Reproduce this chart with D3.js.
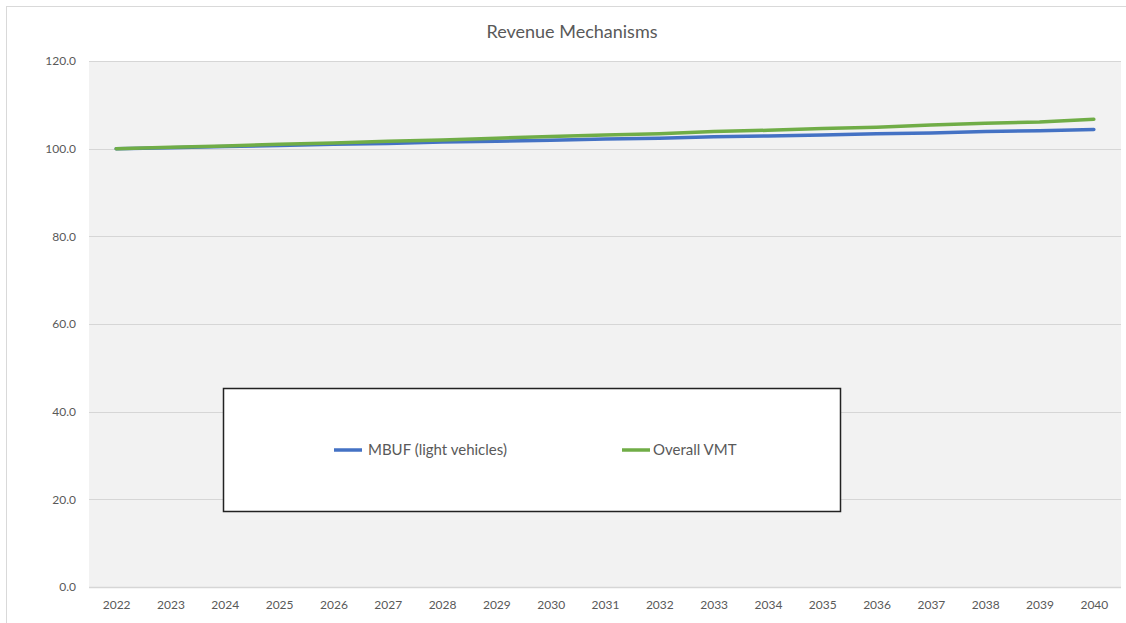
<!DOCTYPE html>
<html>
<head>
<meta charset="utf-8">
<script src="https://cdn.jsdelivr.net/npm/d3@7"></script>
<style>
  html, body { margin: 0; padding: 0; background: #fff; }
  svg { display: block; font-family: Lato, "Open Sans", sans-serif; }
</style>
</head>
<body>
<div id="chart"></div>
<script>
const years = ["2022","2023","2024","2025","2026","2027","2028","2029","2030","2031",
  "2032","2033","2034","2035","2036","2037","2038","2039","2040"]
const mbuf = [100.0, 100.2, 100.5, 100.7, 101.0, 101.2, 101.5, 101.7, 101.9, 102.2,
  102.4, 102.7, 102.9, 103.1, 103.4, 103.6, 103.9, 104.1, 104.4]
const vmt = [100.0, 100.3, 100.6, 101.0, 101.3, 101.7, 102.0, 102.4, 102.8, 103.1,
  103.4, 103.9, 104.2, 104.6, 104.9, 105.4, 105.8, 106.1, 106.7]
const yTicks = [0, 20, 40, 60, 80, 100, 120]
const seriesNames = ["MBUF (light vehicles)", "Overall VMT"]
const seriesColors = ["#4472C4", "#70AD47"]

const width = 1126, height = 623
const plot = { left: 89, right: 1121, top: 61, bottom: 587 }

const svg = d3.select("#chart").append("svg")
  .attr("width", width)
  .attr("height", height)

// chart border
svg.append("rect")
  .attr("x", 6.5).attr("y", 6.5)
  .attr("width", width + 10).attr("height", height + 10)
  .attr("fill", "#fff")
  .attr("stroke", "#d9d9d9")

// plot background
svg.append("rect")
  .attr("x", plot.left).attr("y", plot.top)
  .attr("width", plot.right - plot.left).attr("height", plot.bottom - plot.top)
  .attr("fill", "#f2f2f2")

const x = d3.scalePoint().domain(years).range([plot.left, plot.right]).padding(0.5)
const y = d3.scaleLinear().domain([0, 120]).range([plot.bottom, plot.top])

// gridlines
svg.append("g")
  .selectAll("line")
  .data(yTicks)
  .join("line")
  .attr("x1", plot.left).attr("x2", plot.right)
  .attr("y1", d => Math.round(y(d)) + 0.5).attr("y2", d => Math.round(y(d)) + 0.5)
  .attr("stroke", "#d6d6d6")
  .attr("stroke-width", d => d === 0 ? 1.5 : 1)

// y axis
const yAxis = svg.append("g")
  .attr("transform", `translate(${plot.left - 10},0)`)
  .call(d3.axisLeft(y).tickValues(yTicks).tickFormat(d3.format(".1f")).tickSize(0))
  .attr("font-family", null)
yAxis.select(".domain").remove()
yAxis.selectAll("text")
  .attr("fill", "#595959")
  .attr("font-size", 12)
  .attr("dx", 0)

// x axis
const xAxis = svg.append("g")
  .attr("transform", `translate(0,${plot.bottom + 10})`)
  .call(d3.axisBottom(x).tickSize(0))
  .attr("font-family", null)
xAxis.select(".domain").remove()
xAxis.selectAll("text")
  .attr("fill", "#595959")
  .attr("font-size", 12)

// lines
const line = d3.line()
  .x((d, i) => x(years[i]))
  .y(d => y(d))

;[mbuf, vmt].forEach((vals, i) => {
  svg.append("path")
    .datum(vals)
    .attr("fill", "none")
    .attr("stroke", seriesColors[i])
    .attr("stroke-width", 3.5)
    .attr("stroke-linecap", "round")
    .attr("stroke-linejoin", "round")
    .attr("d", line)
})

// title
svg.append("text")
  .attr("x", 572).attr("y", 38)
  .attr("text-anchor", "middle")
  .attr("font-size", 18)
  .attr("fill", "#595959")
  .text("Revenue Mechanisms")

// legend
const legend = svg.append("g")
legend.append("rect")
  .attr("x", 223.5).attr("y", 388.5)
  .attr("width", 617).attr("height", 123)
  .attr("fill", "#fff")
  .attr("stroke", "#222")
  .attr("stroke-width", 1.5)

const legendX = [334, 622]
seriesNames.forEach((name, i) => {
  const g = legend.append("g").attr("transform", `translate(${legendX[i]},450)`)
  g.append("line")
    .attr("x1", 0).attr("x2", 28)
    .attr("stroke", seriesColors[i])
    .attr("stroke-width", 3.5)
  g.append("text")
    .attr("x", i === 0 ? 34 : 31).attr("y", 5)
    .attr("font-size", 15)
    .attr("fill", "#595959")
    .text(name)
})
</script>
</body>
</html>
